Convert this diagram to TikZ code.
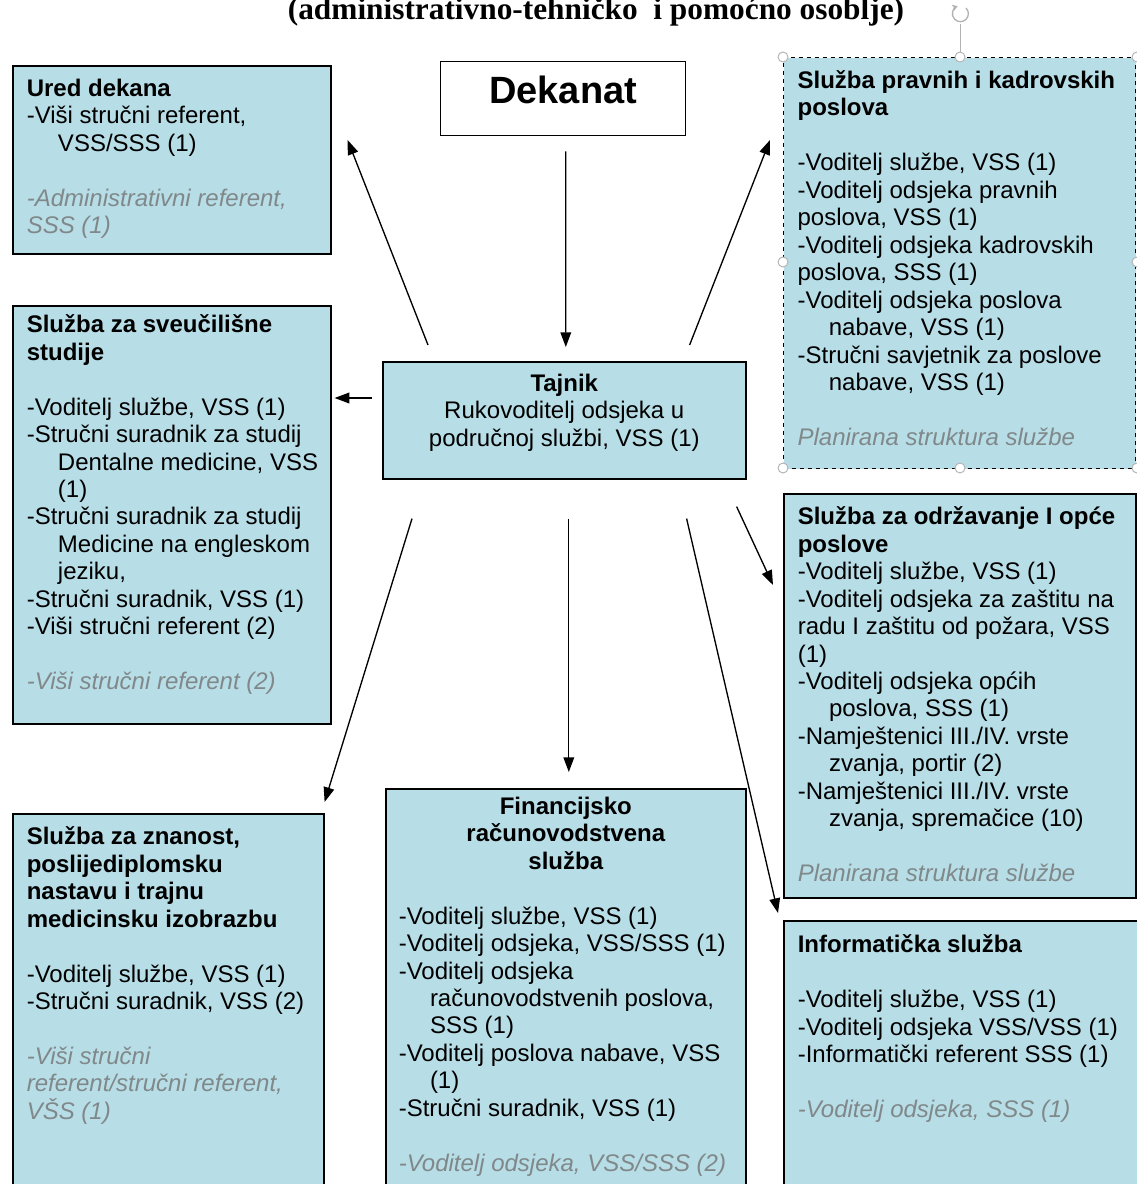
\documentclass[tikz,border=0pt]{standalone}
\usepackage{fontspec}
\setmainfont{Liberation Sans}
\newfontfamily\titlefont{Liberation Serif}
\usetikzlibrary{arrows.meta}
\definecolor{boxblue}{RGB}{183,221,230}
\definecolor{plangray}{RGB}{128,136,138}
\newlength\px \setlength\px{0.75pt}
\newcommand{\indt}{\hspace*{1.3em}}
\newcommand{\planned}[1]{{\color{plangray}\itshape #1}}
% width, height, top pad (px), text
\newcommand{\panel}[4]{\parbox[t][#2\px][t]{#1\px}{\leftskip=14\px\rightskip=0pt plus 1fil\parindent=0pt\parfillskip=0pt plus 1fil\vspace*{#3\px}#4\par}}

\begin{document}
\begin{tikzpicture}[x=0.75pt,y=-0.75pt,
  box/.style={draw=black, line width=1.2pt, fill=boxblue, inner sep=0pt, anchor=north west, font=\fontsize{18}{20.6}\selectfont},
  arr/.style={line width=1pt, -{Triangle[length=11pt,width=8pt]}},
  handle/.style={draw=gray!60, fill=white, line width=0.7pt}]
\useasboundingbox (0,0) rectangle (1137,1184);

% Title Node
\node [anchor=base, font=\titlefont\fontsize{23.5}{28}\selectfont\bfseries] (title) at (596,20) {(administrativno-tehničko\ \ i pomoćno osoblje)};

%Shape: Dekanat
\node [box, fill=white, line width=1pt, font=\fontsize{28.5}{34}\selectfont\bfseries] (dekanat) at (440,61) {\panel{245}{74}{14}{\centering Dekanat}};
%Shape: Tajnik
\node [box] (tajnik) at (382,361) {\panel{363}{117}{12}{\centering\textbf{Tajnik}\\ Rukovoditelj odsjeka u\\ područnoj službi, VSS (1)}};

%Shape: Ured dekana
\node [box] (ured) at (12,65) {\panel{318}{188}{13}{\textbf{Ured dekana}\\
-Viši stručni referent,\\
\indt VSS/SSS (1)\\[\baselineskip]
\planned{-Administrativni referent,}\\
\planned{SSS (1)}}};
%Shape: Sveucilisni studiji
\node [box] (studiji) at (12,305) {\panel{318}{418}{9}{\textbf{Služba za sveučilišne}\\
\textbf{studije}\\[\baselineskip]
-Voditelj službe, VSS (1)\\
-Stručni suradnik za studij\\
\indt Dentalne medicine, VSS\\
\indt (1)\\
-Stručni suradnik za studij\\
\indt Medicine na engleskom\\
\indt jeziku,\\
-Stručni suradnik, VSS (1)\\
-Viši stručni referent (2)\\[\baselineskip]
\planned{-Viši stručni referent (2)}}};
%Shape: Znanost
\node [box] (znanost) at (12,813) {\panel{311}{380}{13}{\textbf{Služba za znanost,}\\
\textbf{poslijediplomsku}\\
\textbf{nastavu i trajnu}\\
\textbf{medicinsku izobrazbu}\\[\baselineskip]
-Voditelj službe, VSS (1)\\
-Stručni suradnik, VSS (2)\\[\baselineskip]
\planned{-Viši stručni}\\
\planned{referent/stručni referent,}\\
\planned{VŠS (1)}}};
%Shape: Financijsko racunovodstvena
\node [box] (financije) at (385,788) {\panel{360}{400}{8}{{\centering\bfseries Financijsko\\ računovodstvena\\ služba\par}
\vspace{\baselineskip}\leftskip=13\px
-Voditelj službe, VSS (1)\\
-Voditelj odsjeka, VSS/SSS (1)\\
-Voditelj odsjeka\\
\indt računovodstvenih poslova,\\
\indt SSS (1)\\
-Voditelj poslova nabave, VSS\\
\indt (1)\\
-Stručni suradnik, VSS (1)\\[\baselineskip]
\planned{-Voditelj odsjeka, VSS/SSS (2)}}};
%Shape: Pravni i kadrovski (selected)
\node [box, dashed, line width=0.9pt] (pravni) at (783,57) {\panel{352}{411}{13}{\textbf{Služba pravnih i kadrovskih}\\
\textbf{poslova}\\[\baselineskip]
-Voditelj službe, VSS (1)\\
-Voditelj odsjeka pravnih\\
poslova, VSS (1)\\
-Voditelj odsjeka kadrovskih\\
poslova, SSS (1)\\
-Voditelj odsjeka poslova\\
\indt nabave, VSS (1)\\
-Stručni savjetnik za poslove\\
\indt nabave, VSS (1)\\[\baselineskip]
\planned{Planirana struktura službe}}};
%Shape: Odrzavanje
\node [box] (odrzavanje) at (783,493) {\panel{352}{404}{13}{\textbf{Služba za održavanje I opće}\\
\textbf{poslove}\\
-Voditelj službe, VSS (1)\\
-Voditelj odsjeka za zaštitu na\\
radu I zaštitu od požara, VSS\\
(1)\\
-Voditelj odsjeka općih\\
\indt poslova, SSS (1)\\
-Namještenici III./IV. vrste\\
\indt zvanja, portir (2)\\
-Namještenici III./IV. vrste\\
\indt zvanja, spremačice (10)\\[\baselineskip]
\planned{Planirana struktura službe}}};
%Shape: Informaticka
\node [box] (informatika) at (783,920) {\panel{354}{270}{14}{\textbf{Informatička služba}\\[\baselineskip]
-Voditelj službe, VSS (1)\\
-Voditelj odsjeka VSS/VSS (1)\\
-Informatički referent SSS (1)\\[\baselineskip]
\planned{-Voditelj odsjeka, SSS (1)}}};

%Straight Lines
\draw [arr] ([shift={(2.5,15)}]dekanat.south) -- ([shift={(1.5,-14)}]tajnik.north);
\draw [arr] ([shift={(46,-16)}]tajnik.north west) -- ([shift={(16,75)}]ured.north east);
\draw [arr] ([shift={(-57,-16)}]tajnik.north east) -- ([shift={(-13,83)}]pravni.north west);
\draw [arr] ([shift={(-10,37)}]tajnik.north west) -- ([shift={(3,93)}]studiji.north east);
\draw [arr] ([shift={(30,39)}]tajnik.south west) -- ([shift={(0,-11)}]znanost.north east);
\draw [arr] ([shift={(4.5,39)}]tajnik.south) -- ([shift={(3,-16)}]financije.north);
\draw [arr] ([shift={(-10,27)}]tajnik.south east) -- ([shift={(-10,92)}]odrzavanje.north west);
\draw [arr] ([shift={(-60,39)}]tajnik.south east) -- ([shift={(-5,-7)}]informatika.north west);

%Selection handles
\draw [gray!60, line width=0.7pt] (960,24) -- (960,57);
\draw [gray!60, line width=1pt, -{Stealth[length=4pt,width=5pt]}] (966,8) arc[start angle=-45, end angle=250, radius=8];
\foreach \hx/\hy in {783/57, 960/57, 1137/57, 783/262, 1137/262, 783/468, 960/468, 1137/468}
  \filldraw [handle] (\hx,\hy) circle[radius=5];

\end{tikzpicture}
\end{document}
